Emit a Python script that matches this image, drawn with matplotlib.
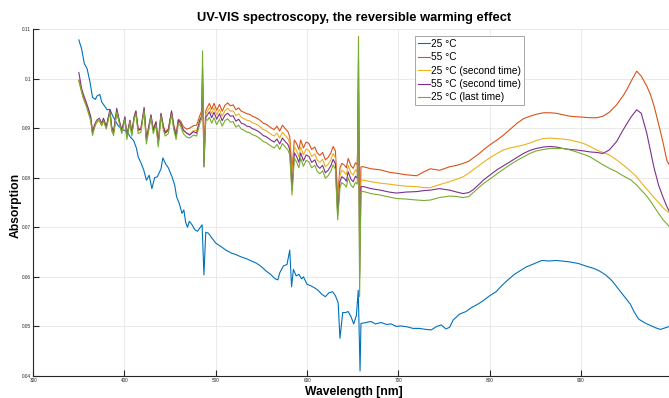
import matplotlib
matplotlib.use("Agg")
import matplotlib.pyplot as plt

# ---------------- data ----------------
wl_blue = [350, 353, 356, 359, 362, 365, 368, 370, 373, 375, 378, 381, 384, 387, 390, 393, 396, 399,
           403, 406, 410, 413, 415, 418, 421, 424, 427, 430, 433, 436, 440, 442, 445, 448, 452, 455,
           457, 460, 463, 465, 467, 469, 471, 474, 477, 480, 483, 485, 487, 489, 492, 495, 500, 505,
           511, 517, 522, 528, 533, 539, 544, 549, 555, 560, 565, 568, 570, 574, 578, 581, 583, 585,
           588, 591, 594, 596, 600, 604, 608, 612, 616, 620, 624, 628, 631, 634, 636, 639, 642, 645,
           648, 651, 654, 656, 658, 659, 665, 670, 675, 681, 687, 692, 698, 703, 710, 716, 723, 730,
           736, 742, 747, 752, 756, 760, 767, 774, 780, 787, 793, 800, 807, 813, 820, 827, 833, 840,
           848, 857, 865, 872, 879, 888, 897, 905, 914, 920, 927, 934, 940, 947, 954, 958, 963, 970,
           976, 982, 987, 992, 997]
abs_blue = [0.1078, 0.1060, 0.1030, 0.1020, 0.0995, 0.0962, 0.0958, 0.0965, 0.0968, 0.0953, 0.0945,
            0.0937, 0.0938, 0.0925, 0.0915, 0.0905, 0.0900, 0.0896, 0.0893, 0.0883, 0.0875, 0.0860,
            0.0842, 0.0830, 0.0816, 0.0795, 0.0805, 0.0778, 0.0800, 0.0802, 0.0818, 0.0840, 0.0828,
            0.0820, 0.0802, 0.0785, 0.0762, 0.0748, 0.0728, 0.0735, 0.0710, 0.0700, 0.0712, 0.0705,
            0.0695, 0.0692, 0.0700, 0.0705, 0.0604, 0.0690, 0.0688, 0.0680, 0.0668, 0.0662, 0.0654,
            0.0648, 0.0645, 0.0640, 0.0637, 0.0632, 0.0628, 0.0622, 0.0612, 0.0605, 0.0596, 0.0594,
            0.0608, 0.0622, 0.0625, 0.0654, 0.0580, 0.0615, 0.0602, 0.0605, 0.0596, 0.0600, 0.0585,
            0.0582, 0.0578, 0.0573, 0.0565, 0.0560, 0.0568, 0.0570, 0.0562, 0.0548, 0.0476, 0.0528,
            0.0528, 0.0530, 0.0520, 0.0505, 0.0522, 0.0573, 0.0410, 0.0506, 0.0508, 0.0510, 0.0505,
            0.0508, 0.0504, 0.0505, 0.0500, 0.0501, 0.0499, 0.0496, 0.0496, 0.0494, 0.0493, 0.0500,
            0.0503, 0.0495, 0.0498, 0.0513, 0.0525, 0.0530, 0.0538, 0.0545, 0.0552, 0.0562, 0.0570,
            0.0582, 0.0594, 0.0605, 0.0612, 0.0620, 0.0626, 0.0633, 0.0632, 0.0633, 0.0632, 0.0630,
            0.0627, 0.0622, 0.0617, 0.0612, 0.0604, 0.0592, 0.0578, 0.0562, 0.0545, 0.0530, 0.0515,
            0.0507, 0.0502, 0.0497, 0.0494, 0.0497, 0.0500]

wl_other = [350, 353, 355, 358.5, 360, 363, 365, 367, 369.5, 372.5, 375, 377, 380, 384, 386, 388,
            391.5, 395, 397, 400.5, 402.5, 406, 408, 410.5, 412.5, 415, 418, 420, 421.5, 424, 426,
            429, 431.5, 434.5, 437, 440, 442.5, 444.5, 448, 451.5, 454, 456.5, 459, 461.5, 464.5,
            468, 471.5, 475.5, 479, 482.5, 484.5,
            485.5, 487, 489,
            491, 493, 495.5, 498, 501, 504, 507, 510, 513, 516, 519, 522, 525, 528, 531, 534, 537,
            540, 543, 546, 549, 552, 555, 558, 561, 564, 567, 570, 573, 576, 579, 581, 583.5, 586,
            588.5, 591, 593, 596, 599, 602, 605, 608.5, 611, 614, 617, 620, 623, 626, 628.5, 631,
            633.5, 636, 638, 641, 643, 645, 648, 650.5, 653, 655,
            656.3, 657.5, 659,
            662, 670, 680, 690, 698, 708, 720, 728, 735, 745, 756, 764, 771, 777, 782, 788, 793, 800,
            808, 815, 822, 830, 837, 844, 851, 859, 866, 873, 880, 888, 895, 903, 910, 917, 924, 931,
            939, 946, 950, 955, 961, 966, 972, 976, 980, 985, 990, 994, 997]

abs_55 = [0.0997, 0.0975, 0.0962, 0.0946, 0.0938, 0.0921, 0.0893, 0.0903, 0.0912, 0.0915, 0.0906,
          0.0916, 0.0903, 0.0933, 0.0895, 0.0889, 0.0932, 0.0908, 0.0893, 0.0920, 0.0886, 0.0914,
          0.0889, 0.0921, 0.0933, 0.0898, 0.0900, 0.0921, 0.0937, 0.0880, 0.0898, 0.0925, 0.0898,
          0.0912, 0.0874, 0.0928, 0.0905, 0.0893, 0.0898, 0.0932, 0.0906, 0.0889, 0.0918, 0.0914,
          0.0903, 0.0898, 0.0900, 0.0905, 0.0906, 0.0925, 0.0935,
          0.0990, 0.0862, 0.0935,
          0.0943, 0.0950, 0.0938, 0.0950, 0.0936, 0.0948, 0.0934, 0.0946, 0.0951, 0.0945, 0.0947,
          0.0937, 0.0941, 0.0934, 0.0932, 0.0929, 0.0928, 0.0924, 0.0922, 0.0919, 0.0915, 0.0910,
          0.0908, 0.0904, 0.0900, 0.0897, 0.0904, 0.0894, 0.0906, 0.0899, 0.0893, 0.0883, 0.0816,
          0.0876, 0.0869, 0.0857, 0.0876, 0.0860, 0.0872, 0.0869, 0.0857, 0.0862, 0.0850, 0.0845,
          0.0851, 0.0836, 0.0841, 0.0850, 0.0863, 0.0854, 0.0762, 0.0820, 0.0829, 0.0825, 0.0820,
          0.0839, 0.0824, 0.0819, 0.0830, 0.0826,
          0.0975, 0.0700, 0.0822,
          0.0822, 0.0818, 0.0816, 0.0811, 0.0809, 0.0806, 0.0804, 0.0812, 0.0818, 0.0815, 0.0822,
          0.0825, 0.0829, 0.0833, 0.0840, 0.0848, 0.0856, 0.0866, 0.0876, 0.0886, 0.0897, 0.0910,
          0.0919, 0.0924, 0.0928, 0.0931, 0.0931, 0.0930, 0.0927, 0.0924, 0.0923, 0.0922, 0.0921,
          0.0921, 0.0924, 0.0932, 0.0947, 0.0965, 0.0977, 0.0995, 0.1015, 0.1005, 0.0985, 0.0968,
          0.0945, 0.0908, 0.0870, 0.0835, 0.0825]

abs_25b = [0.0995, 0.0973, 0.0960, 0.0944, 0.0936, 0.0918, 0.0889, 0.0901, 0.0911, 0.0916, 0.0906,
           0.0917, 0.0901, 0.0932, 0.0898, 0.0890, 0.0934, 0.0907, 0.0893, 0.0920, 0.0883, 0.0914,
           0.0888, 0.0921, 0.0932, 0.0895, 0.0897, 0.0921, 0.0938, 0.0876, 0.0895, 0.0925, 0.0895,
           0.0911, 0.0869, 0.0928, 0.0902, 0.0890, 0.0895, 0.0932, 0.0902, 0.0884, 0.0915, 0.0909,
           0.0895, 0.0890, 0.0888, 0.0895, 0.0895, 0.0918, 0.0926,
           0.1000, 0.0835, 0.0928,
           0.0935, 0.0941, 0.0929, 0.0941, 0.0927, 0.0938, 0.0924, 0.0935, 0.0940, 0.0934, 0.0935,
           0.0925, 0.0929, 0.0922, 0.0919, 0.0916, 0.0915, 0.0911, 0.0909, 0.0906, 0.0902, 0.0897,
           0.0895, 0.0891, 0.0887, 0.0884, 0.0890, 0.0880, 0.0892, 0.0885, 0.0879, 0.0869, 0.0790,
           0.0862, 0.0855, 0.0843, 0.0862, 0.0846, 0.0858, 0.0855, 0.0843, 0.0848, 0.0836, 0.0831,
           0.0837, 0.0822, 0.0827, 0.0836, 0.0849, 0.0840, 0.0740, 0.0805, 0.0815, 0.0811, 0.0806,
           0.0825, 0.0810, 0.0805, 0.0816, 0.0812,
           0.1000, 0.0650, 0.0795,
           0.0795, 0.0792, 0.0789, 0.0787, 0.0785, 0.0783, 0.0782, 0.0780, 0.0780, 0.0786, 0.0792,
           0.0797, 0.0802, 0.0809, 0.0816, 0.0824, 0.0831, 0.0840, 0.0849, 0.0856, 0.0860, 0.0863,
           0.0866, 0.0870, 0.0875, 0.0879, 0.0880, 0.0879, 0.0878, 0.0876, 0.0873, 0.0869, 0.0863,
           0.0856, 0.0851, 0.0846, 0.0836, 0.0826, 0.0820, 0.0812, 0.0802, 0.0790, 0.0777, 0.0768,
           0.0760, 0.0750, 0.0739, 0.0733, 0.0729]

abs_55b = [0.1012, 0.0980, 0.0968, 0.0950, 0.0942, 0.0923, 0.0890, 0.0906, 0.0916, 0.0920, 0.0910,
           0.0920, 0.0903, 0.0937, 0.0903, 0.0893, 0.0940, 0.0910, 0.0896, 0.0923, 0.0883, 0.0916,
           0.0890, 0.0923, 0.0935, 0.0896, 0.0898, 0.0923, 0.0942, 0.0876, 0.0896, 0.0927, 0.0896,
           0.0913, 0.0869, 0.0930, 0.0903, 0.0890, 0.0896, 0.0935, 0.0903, 0.0883, 0.0916, 0.0910,
           0.0896, 0.0890, 0.0886, 0.0893, 0.0890, 0.0916, 0.0923,
           0.1020, 0.0822, 0.0922,
           0.0927, 0.0933, 0.0921, 0.0932, 0.0918, 0.0929, 0.0915, 0.0926, 0.0930, 0.0924, 0.0925,
           0.0914, 0.0918, 0.0910, 0.0908, 0.0904, 0.0903, 0.0899, 0.0897, 0.0894, 0.0890, 0.0885,
           0.0883, 0.0879, 0.0875, 0.0872, 0.0878, 0.0868, 0.0880, 0.0873, 0.0867, 0.0857, 0.0775,
           0.0850, 0.0843, 0.0831, 0.0850, 0.0834, 0.0846, 0.0843, 0.0831, 0.0836, 0.0824, 0.0819,
           0.0825, 0.0810, 0.0815, 0.0824, 0.0837, 0.0828, 0.0725, 0.0792, 0.0802, 0.0798, 0.0793,
           0.0812, 0.0797, 0.0792, 0.0803, 0.0799,
           0.1040, 0.0600, 0.0782,
           0.0782, 0.0778, 0.0775, 0.0771, 0.0769, 0.0771, 0.0772, 0.0774, 0.0775, 0.0778, 0.0775,
           0.0771, 0.0768, 0.0770, 0.0776, 0.0786, 0.0795, 0.0805, 0.0816, 0.0824, 0.0832, 0.0841,
           0.0849, 0.0855, 0.0859, 0.0862, 0.0863, 0.0862, 0.0859, 0.0857, 0.0856, 0.0854, 0.0852,
           0.0851, 0.0849, 0.0856, 0.0873, 0.0896, 0.0908, 0.0923, 0.0937, 0.0930, 0.0890, 0.0855,
           0.0820, 0.0785, 0.0760, 0.0742, 0.0731]

abs_25c = [0.0996, 0.0974, 0.0960, 0.0942, 0.0933, 0.0915, 0.0885, 0.0900, 0.0914, 0.0918, 0.0905,
           0.0915, 0.0898, 0.0932, 0.0896, 0.0885, 0.0933, 0.0905, 0.0889, 0.0918, 0.0877, 0.0912,
           0.0884, 0.0918, 0.0929, 0.0889, 0.0892, 0.0918, 0.0935, 0.0868, 0.0890, 0.0922, 0.0889,
           0.0906, 0.0862, 0.0925, 0.0897, 0.0884, 0.0889, 0.0928, 0.0897, 0.0877, 0.0910, 0.0904,
           0.0889, 0.0882, 0.0880, 0.0886, 0.0884, 0.0910, 0.0918,
           0.1056, 0.0822, 0.0918,
           0.0916, 0.0922, 0.0910, 0.0921, 0.0907, 0.0918, 0.0904, 0.0915, 0.0919, 0.0912, 0.0913,
           0.0902, 0.0906, 0.0898, 0.0896, 0.0892, 0.0891, 0.0887, 0.0885, 0.0882, 0.0878, 0.0873,
           0.0871, 0.0867, 0.0863, 0.0860, 0.0867, 0.0857, 0.0869, 0.0862, 0.0856, 0.0846, 0.0765,
           0.0839, 0.0832, 0.0820, 0.0839, 0.0823, 0.0835, 0.0832, 0.0820, 0.0825, 0.0813, 0.0808,
           0.0814, 0.0799, 0.0804, 0.0813, 0.0826, 0.0817, 0.0715, 0.0780, 0.0790, 0.0786, 0.0781,
           0.0800, 0.0785, 0.0780, 0.0791, 0.0787,
           0.1085, 0.0560, 0.0772,
           0.0772, 0.0768, 0.0765, 0.0761, 0.0758, 0.0757, 0.0755, 0.0754, 0.0755, 0.0760, 0.0763,
           0.0762, 0.0760, 0.0762, 0.0770, 0.0780, 0.0788, 0.0797, 0.0808, 0.0817, 0.0826, 0.0835,
           0.0842, 0.0849, 0.0854, 0.0857, 0.0859, 0.0859, 0.0859, 0.0856, 0.0852, 0.0847, 0.0842,
           0.0834, 0.0826, 0.0819, 0.0812, 0.0804, 0.0800, 0.0795, 0.0785, 0.0775, 0.0763, 0.0753,
           0.0742, 0.0728, 0.0715, 0.0707, 0.0701]

series_labels = ["25 °C", "55 °C", "25 °C (second time)", "55 °C (second time)", "25 °C (last time)"]
series_colors = ["#0072BD", "#D95319", "#EDB120", "#7E2F8E", "#77AC30"]

x_ticks = [300, 400, 500, 600, 700, 800, 900]
x_ticklabels = ["300", "400", "500", "600", "700", "800", "900"]
y_ticks = [0.04, 0.05, 0.06, 0.07, 0.08, 0.09, 0.10, 0.11]
y_ticklabels = ["0.04", "0.05", "0.06", "0.07", "0.08", "0.09", "0.1", "0.11"]

title_text = "UV-VIS spectroscopy, the reversible warming effect"
xlabel_text = "Wavelength [nm]"
ylabel_text = "Absorption"

# ---------------- figure ----------------
plt.rcParams['font.family'] = ['Liberation Sans', 'DejaVu Sans']
W, H = 669, 398
fig = plt.figure(figsize=(W / 100, H / 100), dpi=100)
ax = fig.add_axes([33.2 / W, 22 / H, (672.3 - 33.2) / W, 347 / H])

xs = [wl_blue, wl_other, wl_other, wl_other, wl_other]
ys = [abs_blue, abs_55, abs_25b, abs_55b, abs_25c]
for x, y, lab, col in zip(xs, ys, series_labels, series_colors):
    ax.plot(x, y, color=col, lw=0.8, label=lab)

ax.set_xlim(300, 1000)
ax.set_ylim(0.04, 0.11)
ax.set_xticks(x_ticks)
ax.set_xticklabels(x_ticklabels)
ax.set_yticks(y_ticks)
ax.set_yticklabels(y_ticklabels)
ax.tick_params(direction='in', length=4.3, width=0.8, labelsize=3.4, colors='#262626', pad=1.5)
ax.grid(True, color='#e6e6e6', lw=0.6)
ax.set_axisbelow(True)
for s in ['top', 'right']:
    ax.spines[s].set_visible(False)
for s in ['left', 'bottom']:
    ax.spines[s].set_color('#262626')
    ax.spines[s].set_linewidth(0.8)

fig.text(354 / W, 1 - 18 / H, title_text, ha='center', va='center', fontsize=9.3, fontweight='bold')
fig.text(354 / W, 1 - 391.5 / H, xlabel_text, ha='center', va='center', fontsize=8.7, fontweight='bold')
fig.text(16 / W, 1 - 205 / H, ylabel_text, ha='center', va='center', rotation=90, fontsize=8.7,
         fontweight='bold')

leg = ax.legend(loc='upper left', bbox_to_anchor=(415 / W, 1 - 36 / H),
                bbox_transform=fig.transFigure, fontsize=7.3, frameon=True, fancybox=False,
                framealpha=1, edgecolor='#999999', borderpad=0.3, handlelength=1.2,
                handletextpad=0.05, labelspacing=0.33, borderaxespad=0)
leg.get_frame().set_linewidth(0.6)

fig.savefig("out.png", dpi=100)
